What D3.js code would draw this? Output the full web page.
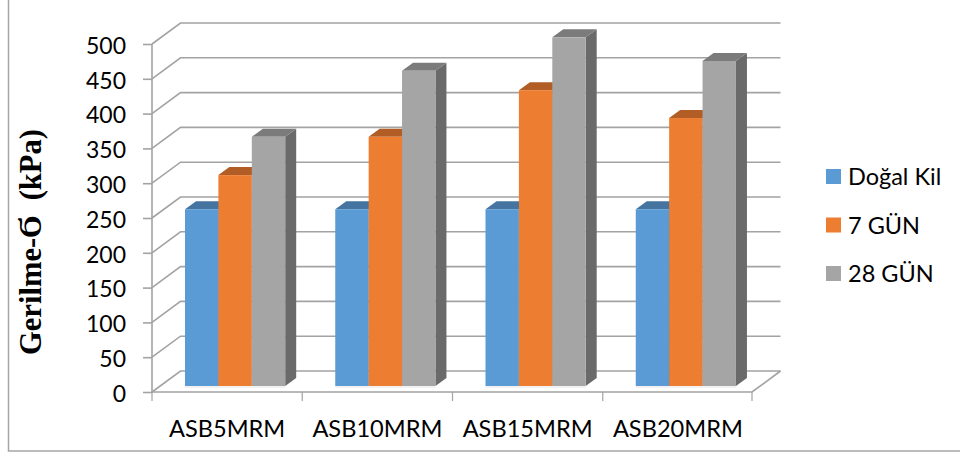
<!DOCTYPE html>
<html><head><meta charset="utf-8">
<script src="https://cdn.jsdelivr.net/npm/d3@7/dist/d3.min.js"></script>
<style>html,body{margin:0;padding:0;background:#fff}svg{display:block}</style>
</head><body><svg id="c" width="960" height="454"></svg>
<script>
const categories = ["ASB5MRM","ASB10MRM","ASB15MRM","ASB20MRM"];
const seriesNames = ["Doğal Kil","7 GÜN","28 GÜN"];
const dogalKil = [254,254,254,254];
const gun7 = [303,358,425,385];
const gun28 = [358,453,501,467];
const yTicks = [0,50,100,150,200,250,300,350,400,450,500];
const frontColors = ["#5b9bd5","#ed7d31","#a5a5a5"];
const topColors = ["#44749f","#b15d25","#7b7b7b"];
const sideColors = ["#3a648a","#98501f","#6a6a6a"];
const yTitle = "Gerilme-Ϭ\u00a0\u00a0(kPa)";

const values = [dogalKil,gun7,gun28];
const svg = d3.select("#c");
const font = "Lato, Carlito, sans-serif";
const grid = "#a3a3a3";

svg.append("path").attr("d","M8.5,0V451H960").attr("fill","none").attr("stroke","#a6a6a6").attr("stroke-width",1.5);

const x = d3.scaleBand().domain(categories).range([152,753]);
const y = d3.scaleLinear().domain([0,500]).range([392,44]);
const dx = 28.5, dy = -21;

const g = svg.append("g").attr("fill","none").attr("stroke",grid).attr("stroke-width",1.6);
yTicks.forEach(t=>{
  g.append("path").attr("d",d3.line()([[152,y(t)],[152+dx,y(t)+dy],[752+dx,y(t)+dy]]));
});
g.append("path").attr("d",`M152,${y(0)}V${y(500)}`);
g.append("path").attr("d",`M152,${y(0)}H752L${752+dx},${y(0)+dy}`);

const innerPad = 33, barW = 33.4, bDepthX = 11, bDepthY = -8, baseY = 386;
const yb = v => baseY - (y(0)-y(v));
categories.forEach((c,i)=>{
  const bx0 = x(c)+innerPad;
  svg.append("rect").attr("x",bx0).attr("y",baseY).attr("width",barW*3).attr("height",2).attr("fill","#f2f2f2");
  values.forEach((s,k)=>{
    const bx = bx0+k*barW, top = yb(s[i]);
    const bar = svg.append("g");
    bar.append("path").attr("fill",sideColors[k])
      .attr("d",`M${bx+barW},${top}l${bDepthX},${bDepthY}V${baseY+bDepthY}l${-bDepthX},${-bDepthY}Z`);
    bar.append("path").attr("fill",topColors[k])
      .attr("d",`M${bx},${top}l${bDepthX},${bDepthY}h${barW}l${-bDepthX},${-bDepthY}Z`);
    bar.append("rect").attr("x",bx).attr("y",top).attr("width",barW).attr("height",baseY-top).attr("fill",frontColors[k]);
  });
});

const yAxis = d3.axisLeft(y).tickValues(yTicks).tickSize(9).tickPadding(17);
const ya = svg.append("g").attr("transform","translate(152,0)").call(yAxis);
ya.select(".domain").remove();
ya.selectAll("line").attr("stroke",grid).attr("stroke-width",1.6);
ya.selectAll("text").attr("font-family",font).attr("font-size",23).attr("fill","#000").attr("dy","0.4em");

const xAxis = d3.axisBottom(x).tickSize(0).tickPadding(28);
const xa = svg.append("g").attr("transform","translate(0,392)").call(xAxis);
xa.select(".domain").remove();
xa.selectAll("text").attr("font-family",font).attr("font-size",23.6).attr("fill","#000");
[0,1,2,3,4].forEach(i=>{
  const tx = i<4 ? x(categories[i]) : 752;
  svg.append("line").attr("x1",tx).attr("x2",tx).attr("y1",392).attr("y2",401).attr("stroke",grid).attr("stroke-width",1.2);
});

svg.append("text").attr("transform","translate(41,242) rotate(-90)").attr("text-anchor","middle")
  .attr("font-family","'Liberation Serif', serif").attr("font-weight","bold").attr("font-size",30.6).attr("fill","#000").text(yTitle);

const ly = d3.scalePoint().domain(seriesNames).range([176.5,273.5]);
seriesNames.forEach((n,k)=>{
  svg.append("rect").attr("x",826).attr("y",ly(n)-7.5).attr("width",15).attr("height",15).attr("fill",frontColors[k]);
  svg.append("text").attr("x",848).attr("y",ly(n)+8.5).attr("font-family",font).attr("font-size",23.5).attr("fill","#000").text(n);
});
</script></body></html>
